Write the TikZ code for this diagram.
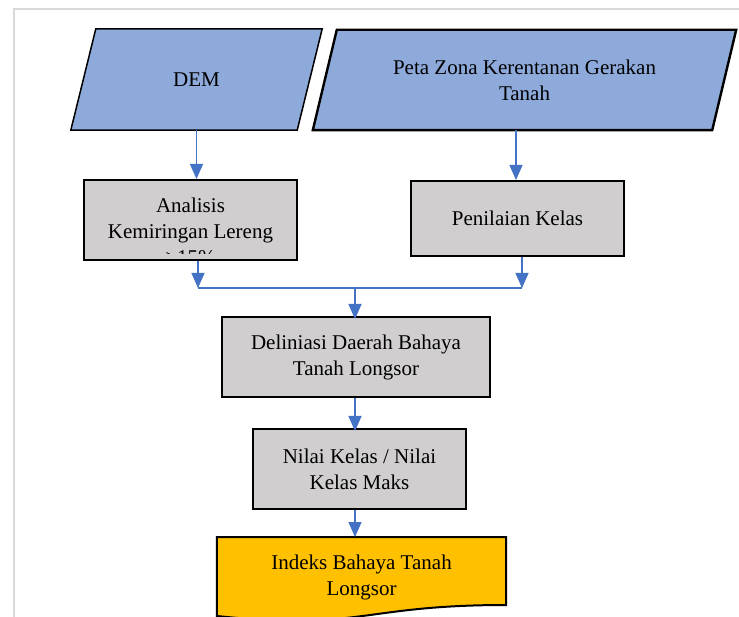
\documentclass[tikz,border=0pt]{standalone}
\usepackage{fontspec}
\setmainfont{Liberation Serif}
\usetikzlibrary{arrows.meta,backgrounds}
\definecolor{arrblue}{HTML}{4472C4}
\definecolor{parblue}{HTML}{8EAADB}
\definecolor{boxgray}{HTML}{D0CECE}
\definecolor{docyellow}{HTML}{FFC000}
\definecolor{framegray}{HTML}{D9D9D9}
\tikzset{
  txt/.style={font=\fontsize{21}{26}\selectfont, align=center, inner sep=0pt},
  graybox/.style={draw=black, line width=2pt, fill=boxgray, inner sep=0pt, txt},
  ghost/.style={inner sep=0pt, txt},
  arr/.style={draw=arrblue, line width=1.3pt, -{Triangle[width=13pt,length=15pt]}},
  conn/.style={draw=arrblue, line width=1.3pt},
}
\begin{document}
\begin{tikzpicture}[x=1pt,y=-1pt]
\useasboundingbox (0,0) rectangle (739,617);
\clip (0,0) rectangle (739,617);
\begin{pgfonlayer}{background}
\fill[white] (0,0) rectangle (739,617);
\draw[framegray, line width=2pt] (14,700) -- (14,9) -- (800,9);
\end{pgfonlayer}

% input parallelograms
\node[ghost, minimum width=251pt, minimum height=101pt] (dem) at (196.5,79.5) {DEM};
\node[ghost, minimum width=423pt, minimum height=100pt] (peta) at (524.5,80) {Peta Zona Kerentanan Gerakan\\Tanah};
\begin{pgfonlayer}{background}
\draw[fill=parblue, line width=1.5pt]
  ([xshift=25pt]dem.north west) -- (dem.north east) -- ([xshift=-25pt]dem.south east) -- (dem.south west) -- cycle;
\draw[fill=parblue, line width=2.4pt]
  ([xshift=24pt]peta.north west) -- (peta.north east) -- ([xshift=-24pt]peta.south east) -- (peta.south west) -- cycle;
\end{pgfonlayer}

% process boxes
\node[graybox, minimum width=213pt, minimum height=80pt] (ana) at (190.5,220) {};
\begin{scope}
\clip (85,181) rectangle (296,253.5);
\node[txt] (anatext) at (190.5,231) {Analisis\\Kemiringan Lereng\\>15\%};
\end{scope}
\node[graybox, minimum width=213pt, minimum height=75pt] (pen) at (517.5,218.5) {Penilaian Kelas};
\node[graybox, minimum width=268pt, minimum height=80pt] (del) at (356,357) {Deliniasi Daerah Bahaya\\Tanah Longsor};
\node[graybox, minimum width=213pt, minimum height=80pt] (nil) at (359.5,469) {Nilai Kelas / Nilai\\Kelas Maks};

% output document shape
\node[ghost, minimum width=289pt, minimum height=80pt] (idx) at (361.5,577) {Indeks Bahaya Tanah\\Longsor};
\begin{pgfonlayer}{background}
\draw[fill=docyellow, line width=2pt]
  (idx.west |- 0,537) -- (idx.east |- 0,537) -- (idx.east |- 0,605)
  .. controls (361.5,605) and (361.5,631) .. (idx.west |- 0,616) -- cycle;
\end{pgfonlayer}

% junction coordinates
\coordinate (jl) at (198,288);
\coordinate (jr) at (522,288);
\coordinate (jm) at (355,288);

% connectors
\draw[arr] (dem.south) -- (dem.south |- ana.north);
\draw[arr] ([xshift=-8.5pt]peta.south) -- ([xshift=-8.5pt]peta.south |- pen.north);
\draw[arr] (ana.south -| jl) -- (jl);
\draw[arr] (pen.south -| jr) -- (jr);
\draw[conn] (jl) -- (jr);
\draw[arr] (jm) -- ([yshift=-3pt]del.north -| jm);
\draw[arr] (del.south -| jm) -- ([yshift=-3pt]nil.north -| jm);
\draw[arr] (nil.south -| jm) -- (jm |- 0,537);
\end{tikzpicture}
\end{document}
